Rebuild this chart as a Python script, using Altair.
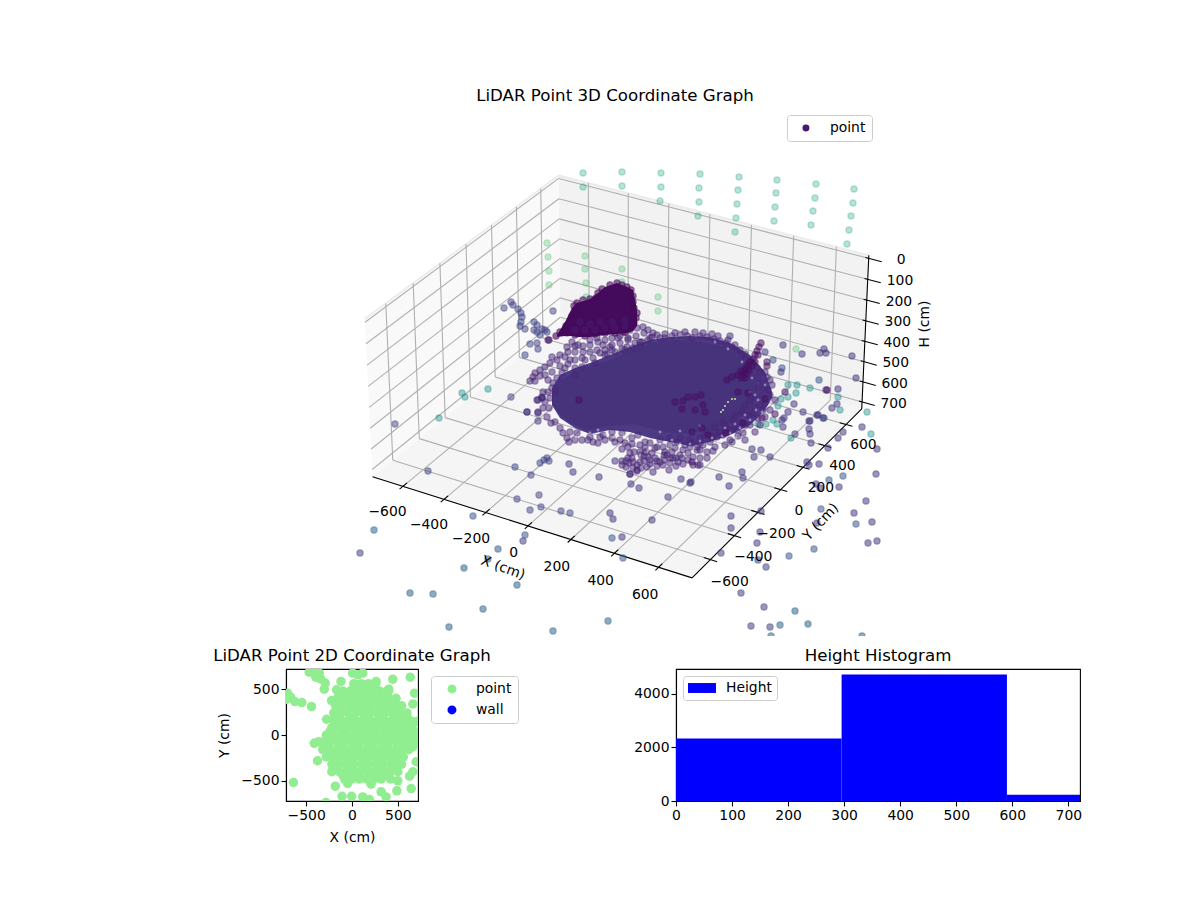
import altair as alt
import numpy as np
import pandas as pd

FONT = 'DejaVu Sans'

# 3D axes: ticks in cm, box limits have matplotlib's small margin
tick_xy = [-600, -400, -200, 0, 200, 400, 600]
tick_h = [0, 100, 200, 300, 400, 500, 600, 700]
LOW, HIGH = -750, 750
H_TOP, H_BOTTOM = -15, 735

# where the corners of the box sit in the picture
corner_cm = [(LOW, HIGH, H_TOP), (HIGH, HIGH, H_TOP), (LOW, LOW, H_TOP), (LOW, HIGH, H_BOTTOM),
             (LOW, LOW, H_BOTTOM), (HIGH, HIGH, H_BOTTOM), (HIGH, LOW, H_BOTTOM)]
corner_px = [(559, 175), (868, 256), (365, 322), (560, 322), (372, 476), (862, 407), (693, 579)]

# point positions (picture px)
wall_teal = [(583, 173), (622, 172), (583, 187), (622, 186), (661, 173), (700, 174), (739, 177), (777, 180),
             (816, 184), (854, 189), (661, 187), (699, 188), (738, 190), (776, 193), (815, 198), (853, 203),
             (660, 201), (699, 202), (737, 204), (775, 207), (813, 211), (851, 216), (698, 216), (736, 218),
             (774, 221), (811, 225), (849, 230), (735, 232), (847, 244)]
wall_green = [(547, 243), (548, 257), (549, 271), (549, 285), (585, 256), (585, 269), (586, 283), (586, 297),
              (622, 269), (622, 282), (658, 297), (658, 311), (796, 349)]
left_slate = [(504, 308), (511, 302), (513, 305), (518, 309), (521, 313), (522, 317), (521, 322), (520, 326),
              (525, 329), (534, 322), (537, 325), (534, 330), (537, 332), (542, 329), (545, 330), (547, 332),
              (540, 335), (530, 344), (537, 343), (538, 349), (525, 355), (553, 311), (395, 424), (428, 471),
              (511, 397), (527, 412), (515, 467), (531, 475), (540, 463), (544, 460), (547, 458), (549, 461),
              (517, 499), (539, 495), (530, 510), (541, 507), (561, 511), (570, 513)]
mid_teal = [(462, 393), (465, 397), (488, 389), (439, 418), (796, 393), (797, 385), (788, 385), (788, 397),
            (781, 399), (778, 406), (810, 388), (773, 420), (766, 424), (758, 424), (777, 424), (791, 438),
            (838, 397), (840, 410), (867, 412), (871, 434)]
blue_mid = [(473, 516), (525, 535), (498, 549), (488, 559), (789, 556), (814, 549), (821, 509), (856, 524),
            (829, 480), (612, 538), (623, 558), (819, 380), (773, 360), (782, 368), (824, 418), (843, 476)]
low_blue = [(374, 530), (464, 568), (410, 593), (433, 594), (517, 585), (483, 609), (449, 627), (553, 631),
            (608, 621), (795, 611), (808, 624), (780, 625), (771, 636), (862, 636)]
far_slate = [(360, 553), (523, 541), (741, 593), (764, 607), (751, 626), (770, 627), (758, 560), (766, 567)]
near = [(599, 477), (573, 472), (569, 464), (615, 461), (610, 513), (613, 519), (681, 479), (690, 483),
        (719, 477), (729, 486), (742, 472), (743, 478), (668, 497), (631, 484), (639, 488), (630, 474),
        (652, 520), (622, 537), (731, 516), (731, 528), (761, 511), (760, 532), (757, 543), (721, 553),
        (807, 462), (809, 465), (819, 464), (816, 484), (820, 488), (839, 487), (876, 474),
        (866, 501), (854, 513), (817, 523), (872, 522), (868, 543), (877, 541), (877, 449), (862, 427),
        (843, 432), (838, 438), (828, 448), (811, 443), (795, 434), (809, 421), (809, 429), (810, 434),
        (803, 412), (818, 415), (823, 418), (832, 408), (838, 389), (826, 390), (837, 404), (770, 457),
        (754, 457), (752, 449), (761, 450), (730, 336), (783, 345), (802, 354), (820, 353), (824, 349),
        (826, 353), (852, 356), (856, 378), (781, 372), (765, 352), (794, 404), (817, 415),
        (788, 412), (784, 418), (782, 420), (783, 427), (810, 421), (732, 442), (700, 465), (691, 482),
        (538, 400), (542, 398), (538, 412), (538, 421)]
dark_bits = [(549, 340), (767, 362), (767, 366), (785, 392), (775, 414), (827, 390), (727, 380), (732, 377),
             (738, 392), (748, 393), (765, 399), (762, 418), (743, 423), (726, 433), (708, 435), (702, 428),
             (695, 397), (701, 395), (703, 405), (705, 412), (695, 410), (692, 462), (579, 400), (675, 402),
             (683, 401), (688, 397), (682, 409), (692, 432)]
spike = [(761, 343), (759, 347), (757, 351), (755, 355), (753, 359), (750, 362), (748, 365), (746, 368),
         (744, 371), (743, 375), (749, 370), (752, 366), (755, 362), (758, 355), (741, 371), (746, 374),
         (745, 378), (741, 378), (738, 375)]
rim = [(533, 377), (535, 373), (540, 370), (545, 367), (550, 363), (557, 360), (552, 357), (565, 357),
       (570, 360), (567, 347), (572, 342), (578, 345), (575, 352), (583, 352), (590, 345), (598, 342),
       (603, 345), (610, 347), (618, 338), (620, 343), (612, 350), (605, 355), (593, 358), (582, 367),
       (575, 368), (562, 373), (557, 378), (553, 383), (552, 388), (548, 392), (542, 397), (623, 332),
       (630, 330), (637, 328), (643, 327), (648, 330), (653, 333), (657, 335), (635, 343), (627, 347),
       (622, 349), (633, 348), (642, 342), (648, 340), (660, 338), (548, 340), (567, 333),
       (527, 412), (537, 400), (542, 398), (538, 413), (543, 408), (547, 417), (551, 423), (555, 422),
       (560, 428), (563, 433), (567, 438), (569, 442), (570, 432), (577, 433), (582, 440), (588, 440),
       (593, 442), (598, 443), (603, 435), (612, 432), (622, 433), (632, 438), (638, 435), (640, 445),
       (645, 442), (650, 443), (622, 449), (628, 447), (634, 452), (646, 452), (652, 453), (657, 447),
       (663, 447), (670, 445), (677, 442), (683, 450), (688, 453), (697, 450), (622, 461), (622, 465),
       (628, 458), (629, 463), (637, 465), (637, 470), (644, 461), (647, 467), (653, 472), (655, 458),
       (660, 462), (663, 465), (669, 470), (667, 455), (673, 458), (678, 462), (683, 464), (698, 465),
       (630, 474), (637, 471), (632, 458), (640, 462), (650, 464), (657, 466), (664, 460), (670, 463),
       (676, 466), (648, 457), (641, 455), (700, 450), (707, 452), (713, 451), (693, 457), (723, 435),
       (732, 430), (737, 430), (743, 433), (727, 428), (720, 432), (717, 437), (710, 442), (703, 445),
       (697, 447), (753, 413), (758, 418), (765, 417), (755, 407), (765, 403), (762, 395), (768, 390),
       (758, 378), (757, 368), (767, 377), (758, 388), (747, 415), (740, 422), (750, 425), (732, 420),
       (723, 423), (715, 427), (708, 432), (700, 438), (692, 443), (707, 337), (714, 339), (720, 341),
       (726, 343), (732, 347), (737, 351), (742, 356), (746, 360), (700, 336), (692, 338)]
rim_more = [(545, 375), (552, 372), (560, 366), (568, 364), (575, 360), (582, 358), (590, 352), (597, 350),
            (605, 350), (612, 345), (560, 355), (568, 352), (575, 346), (583, 346), (590, 340), (597, 338),
            (605, 340), (612, 338), (620, 336), (628, 340), (636, 336), (644, 333), (652, 337), (665, 338),
            (672, 336), (680, 335), (687, 336), (565, 368), (575, 375), (585, 360), (595, 363), (600, 353),
            (548, 380), (540, 376), (535, 381), (530, 381), (555, 392), (550, 398), (545, 402), (549, 408),
            (543, 392), (628, 338), (640, 345), (607, 354), (615, 352), (625, 350), (640, 342), (650, 338),
            (665, 334), (675, 333), (685, 332), (695, 332), (703, 333), (712, 334), (718, 336), (728, 340),
            (735, 345), (740, 350), (745, 354), (770, 395), (765, 388), (772, 385), (763, 383), (760, 372),
            (752, 375), (765, 372), (770, 380), (775, 400), (770, 410), (760, 425), (755, 432), (745, 440),
            (738, 436), (730, 440), (725, 445), (715, 447), (707, 458), (700, 458), (690, 447), (680, 455),
            (672, 452), (665, 452), (655, 448), (645, 448), (640, 452), (630, 453), (625, 443), (615, 442),
            (605, 440), (575, 440), (590, 437), (600, 437), (612, 438), (620, 440), (632, 444), (660, 440),
            (670, 438), (680, 438), (690, 440), (705, 435), (715, 432), (725, 425), (735, 425), (745, 425),
            (750, 415), (745, 405), (750, 400), (760, 405), (755, 398), (763, 410), (742, 412), (735, 415),
            (725, 430), (712, 437), (700, 443), (685, 445), (675, 448), (626, 461), (633, 462), (626, 467),
            (633, 468), (641, 468), (644, 456), (650, 460), (657, 461), (664, 455), (670, 458), (676, 458),
            (682, 458), (688, 460), (693, 465)]
top_rim = [(617, 283), (610, 285), (602, 289), (598, 293), (596, 298), (590, 299), (583, 300), (577, 303),
           (574, 306), (578, 310), (572, 316), (571, 322), (566, 326), (560, 332), (556, 336), (622, 285),
           (627, 287), (631, 290), (633, 296), (633, 302), (634, 308), (637, 313), (636, 318), (634, 323),
           (630, 328), (625, 332), (615, 333), (605, 333), (595, 334), (585, 336), (575, 335), (566, 332)]
top_lower = [(575, 330), (585, 330), (595, 330), (605, 328), (615, 328), (625, 326), (580, 322), (590, 324),
             (600, 322), (612, 322), (625, 320)]
# gaps showing through the cloud
specks = [(598, 430), (606, 434), (614, 437), (624, 436), (636, 440), (642, 437), (654, 441), (660, 444),
          (672, 440), (680, 444), (690, 444), (700, 441), (712, 438), (722, 436), (730, 433), (740, 428),
          (750, 420), (756, 410), (762, 412), (758, 400), (750, 392), (765, 385), (770, 372), (576, 437),
          (584, 434), (590, 433), (640, 455), (648, 450), (660, 455), (672, 447), (684, 454), (694, 448),
          (718, 442), (708, 447), (736, 438), (745, 415), (735, 424), (725, 428), (755, 395), (752, 378),
          (742, 362), (728, 349), (715, 342), (700, 426), (680, 431), (660, 432)]
sliver = [(721, 412), (723, 410), (725, 406), (728, 402), (732, 399), (735, 399)]
# the solid parts of the cloud, upper and lower outline
band_u = [552, 560, 575, 590, 610, 630, 650, 670, 690, 710, 730, 750, 765, 772]
band_upper = [388, 375, 368, 363, 355, 347, 340, 337, 336, 337, 343, 355, 372, 392]
band_lower = [405, 418, 428, 434, 430, 432, 438, 442, 446, 442, 435, 425, 410, 398]
body_u = [552, 560, 570, 587, 610, 633, 653, 677, 700, 723, 737, 750, 757]
body_upper = [392, 380, 375, 367, 360, 350, 343, 340, 342, 346, 356, 370, 385]
body_lower = [405, 415, 423, 430, 426, 424, 429, 434, 432, 426, 420, 410, 395]
top_u = [557, 565, 572, 577, 590, 598, 605, 617, 627, 633, 637]
top_upper = [335, 322, 308, 303, 299, 293, 287, 283, 287, 290, 310]
top_lower_edge = [337, 336, 336, 337, 337, 336, 335, 334, 333, 331, 326]

# 2D scatter, cm
scatter_x = [635, 445, -120, -292, -303, -168, -223, -442, -277, -412, -358, -467, -394, -339,
             -704, -668, -624, -547, -715, -639, -182, -109, -285, -4, 117, 190, 208, -47, 318, 372,
             500, 489, 646, 628, 700, 664, 682, 664, 700, 682, 664, -412, -365, -376, 401, 263, 62, 7, 117]
scatter_y = [631, 609, 584, 566, 500, 493, 376, 310, 172, 675, 675, 686, 631, 610,
             456, 412, 365, 354, 390, -518, -558, -668, -737, -668, -675, -704, -536, -529, -620, -675,
             -500, -609, -584, -449, -292, -401, 456, 339, 146, -55, -128, -91, -73, -281, 500, 584, 657, 675, 675]
core_rows = {
    560: [20, 100, 180, 260],
    480: [-100, -20, 60, 140, 220, 300, 380, 400],
    400: [-160, -80, 0, 80, 160, 240, 320, 400, 480],
    360: [-120, 40, 200, 360],
    320: [-180, -100, -20, 60, 140, 220, 300, 380, 460, 540],
    280: [-160, 0, 160, 320, 480],
    240: [-200, -120, -40, 40, 120, 200, 280, 360, 440, 520, 600],
    200: [-160, 0, 160, 320, 480, 580],
    160: [-200, -120, -40, 40, 120, 200, 280, 360, 440, 520, 600, 630],
    120: [-180, -20, 140, 300, 460, 620],
    80: [-220, -140, -60, 20, 100, 180, 260, 340, 420, 500, 580, 650],
    40: [-240, -80, 80, 240, 400, 560, 680],
    0: [-280, -200, -120, -40, 40, 120, 200, 280, 360, 440, 520, 600, 700],
    -40: [-280, -120, 40, 200, 360, 520, 660],
    -80: [-320, -240, -160, -80, 0, 80, 160, 240, 320, 400, 480, 560, 640, 700],
    -120: [-280, -120, 40, 200, 360, 520],
    -160: [-320, -240, -160, -80, 0, 80, 160, 240, 320, 400, 480, 560, 620],
    -200: [-240, -80, 80, 240, 400, 520],
    -240: [-280, -200, -120, -40, 40, 120, 200, 280, 360, 440, 520, 560],
    -280: [-160, 0, 160, 320, 480],
    -320: [-220, -140, -60, 20, 100, 180, 260, 340, 420, 500, 540],
    -360: [-180, -20, 140, 300, 460],
    -400: [-220, -140, -60, 20, 100, 180, 260, 340, 420, 500],
    -440: [-100, 60, 220, 380],
    -480: [-80, 0, 80, 160, 240, 320, 420],
}
legend_2d = ['point', 'wall']
legend_2d_colors = ['lightgreen', 'blue']

# histogram
bin_start = [0, 295.5, 590.5]
bin_end = [295.5, 590.5, 720.9]
bin_count = [2330, 4720, 237]


def to_view(x, y, h):
    # matplotlib's default view: elev 30, azim -60, dist 10, on a flat box
    aspect = np.array([4, 4, 2]) * 1.19 / 4
    p = aspect * np.array([(x - LOW) / (HIGH - LOW), (y - LOW) / (HIGH - LOW), (H_BOTTOM - h) / (H_BOTTOM - H_TOP)])
    el, az = np.radians(30), np.radians(-60)
    w = np.array([np.cos(el) * np.cos(az), np.cos(el) * np.sin(az), np.sin(el)])
    eye = aspect / 2 + 10 * w
    u = np.cross([0, 0, 1], w)
    u = u / np.linalg.norm(u)
    v = np.cross(w, u)
    d = p - eye
    return np.dot(u, d) / -np.dot(w, d), np.dot(v, d) / -np.dot(w, d)


view = np.array([to_view(*c) for c in corner_cm])
px = np.array(corner_px, dtype=float)
fit_u = np.polyfit(view[:, 0], px[:, 0], 1)
fit_v = np.polyfit(view[:, 1], px[:, 1], 1)


def project(x, y, h):
    a, b = to_view(x, y, h)
    return fit_u[0] * a + fit_u[1], fit_v[0] * b + fit_v[1]


def segment(a, b):
    (u, v), (u2, v2) = project(*a), project(*b)
    return {'u': u, 'v': v, 'u2': u2, 'v2': v2}


def pane_rows(corners):
    # a convex pane as an area: upper and lower edge at each corner's u
    pts = [project(*c) for c in corners]
    rows = []
    for u in sorted(p[0] for p in pts):
        vs = []
        for (u0, v0), (u1, v1) in zip(pts, pts[1:] + pts[:1]):
            if min(u0, u1) <= u <= max(u0, u1):
                vs += [v0, v1] if u0 == u1 else [v0 + (v1 - v0) * (u - u0) / (u1 - u0)]
        rows.append({'u': u, 'v': min(vs), 'v2': max(vs)})
    return pd.DataFrame(rows)


U = alt.X('u:Q', scale=alt.Scale(domain=[8, 1192], nice=False, zero=False), axis=None)
V = alt.Y('v:Q', scale=alt.Scale(domain=[636, 8], nice=False, zero=False), axis=None)

pane_left = [(LOW, LOW, H_BOTTOM), (LOW, LOW, H_TOP), (LOW, HIGH, H_TOP), (LOW, HIGH, H_BOTTOM)]
pane_back = [(LOW, HIGH, H_BOTTOM), (LOW, HIGH, H_TOP), (HIGH, HIGH, H_TOP), (HIGH, HIGH, H_BOTTOM)]
pane_floor = [(LOW, LOW, H_BOTTOM), (LOW, HIGH, H_BOTTOM), (HIGH, HIGH, H_BOTTOM), (HIGH, LOW, H_BOTTOM)]
panes = [alt.Chart(pane_rows(c)).mark_area(color=col, interpolate='linear').encode(x=U, y=V, y2='v2:Q')
         for c, col in [(pane_left, '#f9f9f9'), (pane_back, '#f2f2f2'), (pane_floor, '#f5f5f5')]]

grid_rows = []
for t in tick_xy:
    grid_rows.append(segment((t, LOW, H_BOTTOM), (t, HIGH, H_BOTTOM)))
    grid_rows.append(segment((t, HIGH, H_BOTTOM), (t, HIGH, H_TOP)))
    grid_rows.append(segment((LOW, t, H_BOTTOM), (HIGH, t, H_BOTTOM)))
    grid_rows.append(segment((LOW, t, H_BOTTOM), (LOW, t, H_TOP)))
for t in tick_h:
    grid_rows.append(segment((LOW, LOW, t), (LOW, HIGH, t)))
    grid_rows.append(segment((LOW, HIGH, t), (HIGH, HIGH, t)))
grid = alt.Chart(pd.DataFrame(grid_rows)).mark_rule(color='#b0b0b0', strokeWidth=1.1).encode(
    x=U, y=V, x2='u2:Q', y2='v2:Q')

edge_rows = [segment((LOW, LOW, H_TOP), (LOW, HIGH, H_TOP)), segment((LOW, HIGH, H_TOP), (HIGH, HIGH, H_TOP))]
edges = alt.Chart(pd.DataFrame(edge_rows)).mark_rule(color='#ebebeb', strokeWidth=1.6).encode(
    x=U, y=V, x2='u2:Q', y2='v2:Q')

axis_rows = [segment((LOW, LOW, H_BOTTOM), (HIGH, LOW, H_BOTTOM)),
             segment((HIGH, LOW, H_BOTTOM), (HIGH, HIGH, H_BOTTOM)),
             segment((HIGH, HIGH, H_BOTTOM), (HIGH, HIGH, H_TOP))]
for t in tick_xy:
    axis_rows.append(segment((t, LOW - 25, H_BOTTOM), (t, LOW + 30, H_BOTTOM)))
    axis_rows.append(segment((HIGH - 30, t, H_BOTTOM), (HIGH + 30, t, H_BOTTOM)))
for t in tick_h:
    axis_rows.append(segment((HIGH - 15, HIGH, t), (HIGH + 60, HIGH, t)))
axes3d = alt.Chart(pd.DataFrame(axis_rows)).mark_rule(color='black', strokeWidth=1.1).encode(
    x=U, y=V, x2='u2:Q', y2='v2:Q')


def tick_label(value, pos, du, dv):
    return {'u': pos[0] + du, 'v': pos[1] + dv, 'label': str(value).replace('-', '\u2212')}


label_rows = []
for t in tick_xy:
    label_rows.append(tick_label(t, project(t, LOW - 200, H_BOTTOM), 12, 3))
    label_rows.append(tick_label(t, project(HIGH + 170, t, H_BOTTOM), -19, 10))
for t in tick_h:
    label_rows.append(tick_label(t, project(HIGH + 130, HIGH, t), 4, -6))
tick_text = alt.Chart(pd.DataFrame(label_rows)).mark_text(
    font=FONT, fontSize=13.9, color='black', align='center', baseline='middle').encode(x=U, y=V, text='label:N')

titles3d = pd.DataFrame({'u': [615, 503, 821, 925], 'v': [96, 568, 522, 324],
                         'label': ['LiDAR Point 3D Coordinate Graph', 'X (cm)', 'Y (cm)', 'H (cm)'],
                         'size': [16.67, 13.9, 13.9, 13.9], 'turn': [0, 20, 313, 270]})
title_text = alt.Chart(titles3d).mark_text(font=FONT, color='black', align='center', baseline='middle').encode(
    x=U, y=V, text='label:N', angle=alt.Angle('turn:Q', scale=None), size=alt.Size('size:Q', scale=None, legend=None))

point_groups = [(wall_teal, .58, .45), (wall_green, .72, .45), (left_slate, .2, .72), (mid_teal, .5, .62),
                (blue_mid, .27, .75), (low_blue, .33, .78), (far_slate, .2, .78), (near, .15, .75),
                (rim, .11, .72), (rim_more, .11, .72)]


def points_frame(groups):
    rows = []
    for pts, shade, alpha in groups:
        rows += [{'u': p[0], 'v': p[1], 'shade': shade, 'alpha': alpha, 'series': 'point'} for p in pts]
    return pd.DataFrame(rows)


shade_scale = alt.Scale(scheme='viridis', domain=[0, 1])


def scatter3d(df, legend=None):
    return alt.Chart(df).mark_point(filled=True, size=36, strokeWidth=1.4, clip=True).encode(
        x=U, y=V,
        fill=alt.Fill('shade:Q', scale=shade_scale, legend=None),
        stroke=alt.Stroke('shade:Q', scale=shade_scale, legend=None),
        fillOpacity=alt.FillOpacity('alpha:Q', scale=None, legend=None),
        strokeOpacity=alt.StrokeOpacity('alpha:Q', scale=None, legend=None),
        shape=alt.Shape('series:N', scale=alt.Scale(domain=['point'], range=['circle']), legend=legend))


legend3d = alt.Legend(title=None, orient='none', legendX=779, legendY=107, fillColor='white', strokeColor='#cccccc',
                      cornerRadius=3, padding=6, symbolSize=30, symbolFillColor='#481a6c', symbolStrokeColor='#481a6c',
                      symbolOpacity=1, symbolOffset=6, labelFont=FONT, labelFontSize=13.9, labelColor='black',
                      labelOffset=17)

scatter_far = scatter3d(points_frame(point_groups[:8]), legend3d)
band_df = pd.DataFrame({'u': band_u, 'v': band_upper, 'v2': band_lower})
body_df = pd.DataFrame({'u': body_u, 'v': body_upper, 'v2': body_lower})
top_df = pd.DataFrame({'u': top_u, 'v': top_upper, 'v2': top_lower_edge})
band_area = alt.Chart(band_df).mark_area(color='#4d3a85', interpolate='linear').encode(x=U, y=V, y2='v2:Q')
scatter_rim = scatter3d(points_frame(point_groups[8:]))
core_body = alt.Chart(body_df).mark_area(color='#47327c', interpolate='linear').encode(x=U, y=V, y2='v2:Q')
speck_dots = alt.Chart(pd.DataFrame(specks, columns=['u', 'v'])).mark_circle(
    size=8, color='white', opacity=.4).encode(x=U, y=V)
sliver_dots = alt.Chart(pd.DataFrame(sliver, columns=['u', 'v'])).mark_circle(
    size=4, color='#cfe8a0', opacity=1).encode(x=U, y=V)
scatter_top = scatter3d(points_frame([(top_rim, .02, .85), (top_lower, .07, .75), (spike, .04, .8),
                                      (dark_bits, .04, .75)]))
core_top = alt.Chart(top_df).mark_area(color='#440a5c', interpolate='linear').encode(x=U, y=V, y2='v2:Q')

top = alt.layer(*panes, edges, grid, axes3d, scatter_far, band_area, core_body, scatter_rim, speck_dots, sliver_dots,
                core_top, scatter_top, tick_text, title_text).properties(
    width=1184, height=628, view=alt.ViewBackground(stroke=None))

# 2D panel
points_2d = pd.DataFrame({'x': scatter_x, 'y': scatter_y})
core_2d = pd.DataFrame([(x, y) for y, xs in core_rows.items() for x in xs], columns=['x', 'y'])
df_2d = pd.concat([points_2d, core_2d], ignore_index=True)
df_2d['kind'] = 'point'

frame = alt.ViewBackground(stroke='black', strokeWidth=1.1)


def panel_title(text):
    return alt.TitleParams(text, font=FONT, fontSize=16.67, fontWeight='normal', color='black', offset=4,
                           anchor='middle', frame='group')


plane = alt.Chart(df_2d).mark_circle(size=90, opacity=1, clip=True).encode(
    x=alt.X('x:Q', title='X (cm)', scale=alt.Scale(domain=[-720, 720], nice=False),
            axis=alt.Axis(values=[-500, 0, 500])),
    y=alt.Y('y:Q', title='Y (cm)', scale=alt.Scale(domain=[-720, 720], nice=False),
            axis=alt.Axis(values=[-500, 0, 500])),
    color=alt.Color('kind:N', scale=alt.Scale(domain=legend_2d, range=legend_2d_colors),
                    legend=alt.Legend(title=None, orient='none', legendX=145, legendY=7, fillColor='white',
                                      strokeColor='#cccccc', cornerRadius=3, padding=6, symbolSize=80,
                                      symbolOpacity=1, symbolOffset=8, labelFont=FONT, labelFontSize=13.9,
                                      labelColor='black', labelOffset=17, rowPadding=6))
).properties(width=132, height=132, title=panel_title('LiDAR Point 2D Coordinate Graph'), view=frame)

# histogram panel
hist_df = pd.DataFrame({'start': bin_start, 'end': bin_end, 'count': bin_count, 'base': 0, 'name': 'Height'})
hist = alt.Chart(hist_df).mark_rect(clip=True).encode(
    x=alt.X('start:Q', title=None, scale=alt.Scale(domain=[0, 720.9], nice=False),
            axis=alt.Axis(values=[0, 100, 200, 300, 400, 500, 600, 700])),
    x2='end:Q',
    y=alt.Y('count:Q', title=None, scale=alt.Scale(domain=[0, 4930], nice=False),
            axis=alt.Axis(values=[0, 2000, 4000], format='d')),
    y2='base:Q',
    color=alt.Color('name:N', scale=alt.Scale(domain=['Height'], range=['blue']),
                    legend=alt.Legend(title=None, orient='none', legendX=7, legendY=7, fillColor='white',
                                      strokeColor='#cccccc', cornerRadius=3, padding=5, symbolSize=196,
                                      symbolType='M-2,-0.71H2V0.71H-2Z', symbolStrokeWidth=0, symbolOffset=7,
                                      labelFont=FONT, labelFontSize=13.9, labelColor='black', labelOffset=17))
).properties(width=404, height=132, title=panel_title('Height Histogram'), view=frame)


def spacer(w):
    return alt.Chart(pd.DataFrame({'a': [0]})).mark_point(opacity=0).encode(
        x=alt.X('a:Q', axis=None), y=alt.Y('a:Q', axis=None)).properties(
        width=w, height=10, view=alt.ViewBackground(stroke=None))


bottom = alt.hconcat(spacer(204), plane, spacer(113), hist, spacing=0).resolve_scale(color='independent')
chart = alt.vconcat(top, bottom, spacing=11).resolve_scale(color='independent').properties(
    padding=0).configure_view(stroke=None).configure_axis(
    grid=False, labelFont=FONT, labelFontSize=13.9, labelColor='black', titleFont=FONT, titleFontSize=13.9,
    titleFontWeight='normal', titleColor='black', titlePadding=9, tickColor='black', tickSize=5, tickWidth=1.1,
    domainColor='black', domainWidth=1.1, labelOverlap=False, labelFlush=False)

chart.save("out.html", embed_options={"renderer": "svg", "actions": False})
